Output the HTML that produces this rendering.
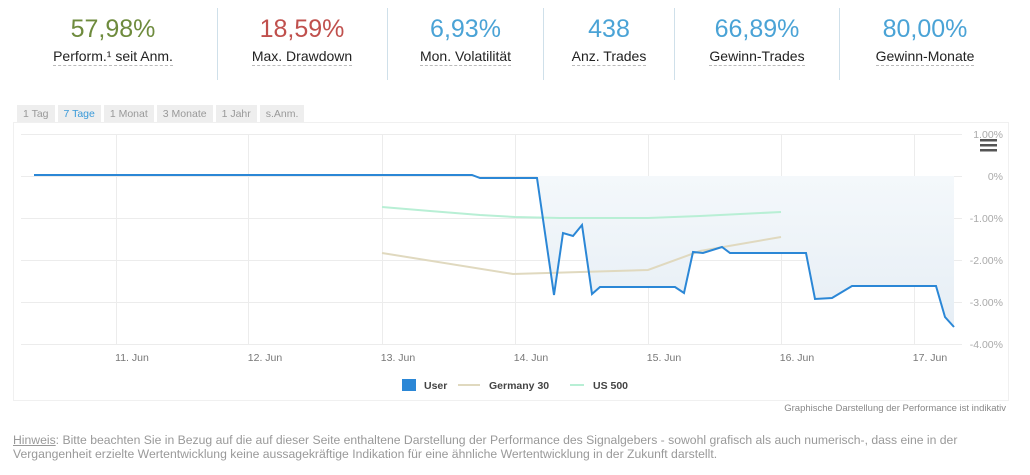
<!DOCTYPE html>
<html><head><meta charset="utf-8"><style>
body{margin:0;width:1030px;height:475px;background:#fff;font-family:"Liberation Sans",sans-serif;position:relative;overflow:hidden}
.s{position:absolute;top:14px;text-align:center}
.v{font-size:25px;font-weight:300;line-height:30px}
.l{font-size:14px;color:#222;margin-top:4px;display:inline-block;border-bottom:1px dashed #bbb;line-height:17px}
.d{position:absolute;top:8px;width:1px;height:72px;background:#cfe0ea}
.tabs{position:absolute;top:104px;left:17px}
.tabs span{display:inline-block;background:#eee;color:#999;font-size:10.5px;padding:3px 6px;margin-right:3px;height:12px}
.note{position:absolute;left:13px;top:433px;font-size:12.2px;color:#999;line-height:14px;width:1010px;white-space:nowrap}
</style></head><body>
<div class="s" style="left:13px;width:200px"><div class="v" style="color:#6e8b3d">57,98%</div><div class="l">Perform.¹ seit Anm.</div></div>
<div class="d" style="left:217px"></div>
<div class="s" style="left:218px;width:168px"><div class="v" style="color:#c0504d">18,59%</div><div class="l">Max. Drawdown</div></div>
<div class="d" style="left:387px"></div>
<div class="s" style="left:388px;width:155px"><div class="v" style="color:#4aa3d6">6,93%</div><div class="l">Mon. Volatilität</div></div>
<div class="d" style="left:543px"></div>
<div class="s" style="left:544px;width:130px"><div class="v" style="color:#4aa3d6">438</div><div class="l">Anz. Trades</div></div>
<div class="d" style="left:674px"></div>
<div class="s" style="left:675px;width:164px"><div class="v" style="color:#4aa3d6">66,89%</div><div class="l">Gewinn-Trades</div></div>
<div class="d" style="left:839px"></div>
<div class="s" style="left:840px;width:170px"><div class="v" style="color:#4aa3d6">80,00%</div><div class="l">Gewinn-Monate</div></div>
<div class="tabs"><span>1 Tag</span><span style="color:#3a9ad9">7 Tage</span><span>1 Monat</span><span>3 Monate</span><span>1 Jahr</span><span>s.Anm.</span></div>
<svg style="position:absolute;left:0;top:0" width="1030" height="475" font-family="Liberation Sans, sans-serif">
<defs><linearGradient id="g" x1="0" y1="0" x2="0" y2="1"><stop offset="0" stop-color="#f4f8fb"/><stop offset="1" stop-color="#e6eef5"/></linearGradient></defs>
<rect x="13.5" y="122.5" width="995" height="278" fill="none" stroke="#f0f0f0"/>
<g stroke="#ececec" stroke-width="1">
<line x1="21" y1="134.5" x2="962" y2="134.5"/><line x1="21" y1="176.5" x2="962" y2="176.5"/><line x1="21" y1="218.5" x2="962" y2="218.5"/><line x1="21" y1="260.5" x2="962" y2="260.5"/><line x1="21" y1="302.5" x2="962" y2="302.5"/><line x1="21" y1="344.5" x2="962" y2="344.5"/>
<line x1="116.5" y1="134" x2="116.5" y2="344"/><line x1="248.5" y1="134" x2="248.5" y2="344"/><line x1="382.5" y1="134" x2="382.5" y2="344"/><line x1="515.5" y1="134" x2="515.5" y2="344"/><line x1="648.5" y1="134" x2="648.5" y2="344"/><line x1="781.5" y1="134" x2="781.5" y2="344"/><line x1="914.5" y1="134" x2="914.5" y2="344"/>
</g>
<polygon fill="url(#g)" points="537,176 537,178 554,295 563,233 573,236 582,225 592,294 600,287 675,287 684,293 693,252 703,253 722,247 730,253 806,253 815,299 832,298 852,286 936,286 945,317 954,327 954,176"/>
<polyline fill="none" stroke="#b8efd5" stroke-width="2" points="382,207 430,211 480,215 515,217 560,218 648,218 700,216 781,212"/>
<polyline fill="none" stroke="#e0d9bf" stroke-width="2" points="382,253 513,274 648,270 700,251 781,237"/>
<polyline fill="none" stroke="#2b87d6" stroke-width="2" points="34,175 472,175 480,178 537,178 554,295 563,233 573,236 582,225 592,294 600,287 675,287 684,293 693,252 703,253 722,247 730,253 806,253 815,299 832,298 852,286 936,286 945,317 954,327"/>
<g font-size="10.5" fill="#aaa" text-anchor="end">
<text x="1003" y="138">1.00%</text><text x="1003" y="180">0%</text><text x="1003" y="222">-1.00%</text><text x="1003" y="264">-2.00%</text><text x="1003" y="306">-3.00%</text><text x="1003" y="348">-4.00%</text>
</g>
<g fill="#555"><rect x="980" y="139" width="17" height="2.5"/><rect x="980" y="144" width="17" height="2.5"/><rect x="980" y="149" width="17" height="2.5"/></g>
<g font-size="10.5" fill="#777" text-anchor="middle">
<text x="132" y="361">11. Jun</text><text x="265" y="361">12. Jun</text><text x="398" y="361">13. Jun</text><text x="531" y="361">14. Jun</text><text x="664" y="361">15. Jun</text><text x="797" y="361">16. Jun</text><text x="930" y="361">17. Jun</text>
</g>
<rect x="402" y="379" width="14" height="12" fill="#2b87d6"/>
<line x1="458" y1="385" x2="480" y2="385" stroke="#e0d9bf" stroke-width="2"/>
<line x1="570" y1="385" x2="584" y2="385" stroke="#b8efd5" stroke-width="2"/>
<g font-size="10.5" font-weight="bold" fill="#444"><text x="424" y="389">User</text><text x="489" y="389">Germany 30</text><text x="593" y="389">US 500</text></g>
<text x="1006" y="411" font-size="9.5" fill="#888" text-anchor="end">Graphische Darstellung der Performance ist indikativ</text>
</svg>
<div class="note"><u>Hinweis</u>: Bitte beachten Sie in Bezug auf die auf dieser Seite enthaltene Darstellung der Performance des Signalgebers - sowohl grafisch als auch numerisch-, dass eine in der<br>Vergangenheit erzielte Wertentwicklung keine aussagekräftige Indikation für eine ähnliche Wertentwicklung in der Zukunft darstellt.</div>
</body></html>
